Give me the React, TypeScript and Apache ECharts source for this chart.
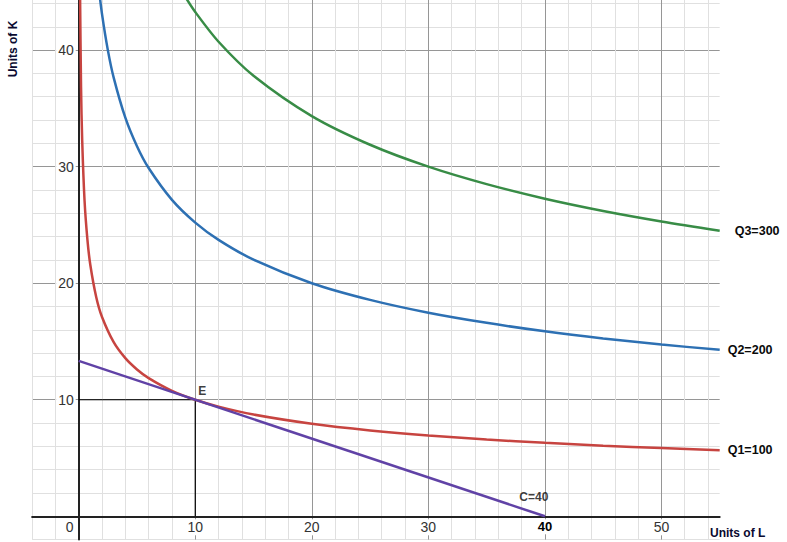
import React, { useEffect, useRef } from "react";
import * as echarts from "echarts";

// Isoquants (L = units of labour, K = units of capital)
const Q1_L = [0.1, 0.2, 0.3, 0.5, 0.75, 1, 1.5, 2, 3, 4, 5, 6, 8, 10, 12, 15, 20, 25, 30, 35, 40, 45, 50, 55];
const Q1_K = [46.4, 36.8, 32.2, 27.1, 23.7, 21.54, 18.82, 17.1, 14.94, 13.57, 12.6, 11.86, 10.77, 10, 9.41, 8.73, 7.94, 7.37, 6.93, 6.59, 6.3, 6.06, 5.85, 5.66];

const Q2_L = [1.7, 2, 2.5, 3, 4, 5, 6, 8, 10, 12, 15, 20, 25, 30, 35, 40, 45, 50, 55];
const Q2_K = [45.5, 43.09, 40.0, 37.64, 34.2, 31.75, 29.88, 27.15, 25.2, 23.72, 22.02, 20.0, 18.57, 17.47, 16.6, 15.87, 15.26, 14.74, 14.28];

const Q3_L = [9, 10, 12, 15, 20, 25, 30, 35, 40, 45, 50, 55];
const Q3_K = [44.8, 43.27, 40.72, 37.8, 34.34, 31.88, 30.0, 28.5, 27.25, 26.2, 25.3, 24.51];

// Isocost line C=40
const COST_L = [0, 40];
const COST_K = [13.33, 0];

// Guide lines to the optimum E
const GUIDE_L = [0, 10, 10];
const GUIDE_K = [10, 10, 0];

const SERIES_NAMES = ["Q1=100", "Q2=200", "Q3=300", "C=40"];
const POINT_LABELS = ["E", "C=40"];
const POINT_L = [10, 40];
const POINT_K = [10, 0];

const X_TICKS = [0, 10, 20, 30, 40, 50];
const Y_TICKS = [10, 20, 30, 40];

const FONT = "'Liberation Sans', Arial, sans-serif";
const MINOR = "#e0e0e0";
const MAJOR = "#969696";
const UNIT = 11.655; // px per unit on both axes

const zip = (a: number[], b: number[]) => a.map((v, i) => [v, b[i]]);

export default function App() {
  const ref = useRef<HTMLDivElement>(null);
  useEffect(() => {
    if (!ref.current) return;
    const chart = echarts.init(ref.current, null, { renderer: "svg" });
    const curve = (name: string, L: number[], K: number[], color: string, endPad: number[], dist: number) => ({
      name,
      type: "line",
      data: zip(L, K),
      smooth: 0.3,
      showSymbol: false,
      symbol: "none",
      clip: true,
      z: 4,
      lineStyle: { color, width: 2.5 },
      endLabel: {
        show: true,
        formatter: name,
        distance: dist,
        padding: endPad,
        color: "#0a0a0a",
        fontWeight: "bold",
        fontSize: 12.5,
        fontFamily: FONT,
      },
    });
    chart.setOption({
      animation: false,
      backgroundColor: "#fff",
      grid: {
        left: 32.1,
        right: 67.3,
        top: 0,
        bottom: 2.4,
        containLabel: false,
        outerBoundsMode: "none",
      },
      xAxis: {
        type: "value",
        min: -4,
        max: 55,
        interval: 2,
        position: "bottom",
        offset: -2 * UNIT,
        axisLine: { show: true, onZero: false, lineStyle: { color: "#222", width: 2 } },
        axisTick: { show: false },
        splitLine: {
          show: true,
          showMinLine: true,
          showMaxLine: false,
          lineStyle: { color: [MINOR, MINOR, MAJOR, MINOR, MINOR], width: 1 },
        },
        axisLabel: {
          interval: 0,
          margin: 3,
          fontFamily: FONT,
          fontSize: 14,
          color: "#333",
          formatter: (v: number) => {
            const r = Math.round(v);
            if (Math.abs(v - r) > 1e-6 || !X_TICKS.includes(r)) return "";
            if (r === 0) return "{z|0}";
            if (r === 40) return "{b|40}";
            return "{n|" + r + "}";
          },
          rich: {
            n: { backgroundColor: "#fff", padding: [1, 2], fontSize: 14, color: "#333", fontFamily: FONT },
            z: { padding: [1, 18, 1, 0], fontSize: 14, color: "#333", fontFamily: FONT },
            b: { backgroundColor: "#fff", padding: [1, 2], fontSize: 13, fontWeight: "bold", color: "#000", fontFamily: FONT },
          },
        },
      },
      yAxis: {
        type: "value",
        min: -2,
        max: 44.3,
        interval: 2,
        position: "left",
        offset: -4 * UNIT,
        axisLine: { show: true, onZero: false, lineStyle: { color: "#222", width: 2 } },
        axisTick: { show: false },
        splitLine: {
          show: true,
          showMinLine: true,
          showMaxLine: false,
          lineStyle: { color: [MINOR, MAJOR, MINOR, MINOR, MINOR], width: 1 },
        },
        axisLabel: {
          interval: 0,
          margin: 3,
          fontFamily: FONT,
          fontSize: 14,
          color: "#333",
          backgroundColor: "#fff",
          padding: [0, 2],
          formatter: (v: number) => {
            const r = Math.round(v);
            if (Math.abs(v - r) > 1e-6 || !Y_TICKS.includes(r)) return "";
            return String(r);
          },
        },
      },
      series: [
        curve(SERIES_NAMES[0], Q1_L, Q1_K, "#c74440", [0, 0, 0, 0], 8),
        curve(SERIES_NAMES[1], Q2_L, Q2_K, "#2d70b3", [0, 0, 3, 0], 8),
        curve(SERIES_NAMES[2], Q3_L, Q3_K, "#388c46", [6, 0, 0, 7], 8),
        {
          name: SERIES_NAMES[3],
          type: "line",
          data: zip(COST_L, COST_K),
          showSymbol: false,
          symbol: "none",
          z: 5,
          lineStyle: { color: "#6042a6", width: 2.5 },
        },
        {
          name: "guide",
          type: "line",
          data: zip(GUIDE_L, GUIDE_K),
          showSymbol: false,
          symbol: "none",
          z: 3,
          lineStyle: { color: "#000", width: 1.2 },
        },
        {
          name: "points",
          type: "scatter",
          symbolSize: 1,
          z: 6,
          itemStyle: { color: "rgba(0,0,0,0)" },
          data: POINT_L.map((l, i) => ({
            value: [l, POINT_K[i]],
            label: {
              show: true,
              position: "inside",
              formatter: POINT_LABELS[i],
              offset: i === 0 ? [7, -9] : [-11, -19],
              color: "#0a0a0a",
              fontWeight: "bold",
              fontSize: 12,
              fontFamily: FONT,
            },
          })),
        },
      ],
      graphic: [
        {
          type: "text",
          x: 13,
          y: 49,
          rotation: Math.PI / 2,
          style: {
            text: "Units of K",
            align: "center",
            verticalAlign: "middle",
            fill: "#0a0a30",
            font: "bold 12px " + FONT,
          },
        },
        {
          type: "text",
          x: 710,
          y: 533,
          style: {
            text: "Units of L",
            align: "left",
            verticalAlign: "middle",
            fill: "#0a0a30",
            font: "bold 12px " + FONT,
          },
        },
      ],
    });
    return () => chart.dispose();
  }, []);
  return (
    <div
      ref={ref}
      style={{ position: "fixed", left: 0, top: 0, width: 787, height: 542, background: "#fff" }}
    />
  );
}
